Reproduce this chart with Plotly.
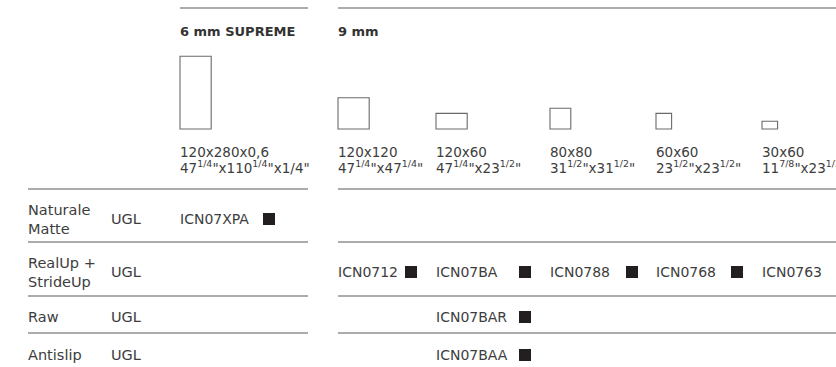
import plotly.graph_objects as go

# ---------------- data ----------------
groups = ["6 mm SUPREME", "9 mm"]
sizes_cm = ["120x280x0,6", "120x120", "120x60", "80x80", "60x60", "30x60"]
sizes_in = [
    '47<sup>1/4</sup>"x110<sup>1/4</sup>"x1/4"',
    '47<sup>1/4</sup>"x47<sup>1/4</sup>"',
    '47<sup>1/4</sup>"x23<sup>1/2</sup>"',
    '31<sup>1/2</sup>"x31<sup>1/2</sup>"',
    '23<sup>1/2</sup>"x23<sup>1/2</sup>"',
    '11<sup>7/8</sup>"x23<sup>1/2</sup>"',
]
tile_w = [120, 120, 120, 80, 60, 60]
tile_h = [280, 120, 60, 80, 60, 30]
finishes = ["Naturale<br>Matte", "RealUp +<br>StrideUp", "Raw", "Antislip"]
glazes = ["UGL", "UGL", "UGL", "UGL"]
codes = [
    ["ICN07XPA", "", "", "", "", ""],
    ["", "ICN0712", "ICN07BA", "ICN0788", "ICN0768", "ICN0763"],
    ["", "", "ICN07BAR", "", "", ""],
    ["", "", "ICN07BAA", "", "", ""],
]

# ---------------- layout constants ----------------
W, H = 836, 367
col_x = [180, 338, 436, 550, 656, 762]
sq_off = [83, 67, 83, 76, 75, 75]
seg_ranges = [(180, 308), (338, 836)]
body_seg_ranges = [(28, 308), (338, 836)]
row_y = [219, 272, 317, 355]
row_lines = [189, 242, 296, 333]
tile_base = 129
tile_scale = 0.26
FONT = "DejaVu Sans"
TXT = "#3d3d3d"
LINE = "#5a5a5a"

fig = go.Figure()
shapes = []
ann = []

def text(x, y, s, size=14, bold=False, color=TXT):
    ann.append(dict(x=x, y=y, xref="x", yref="y", text=("<b>%s</b>" % s) if bold else s,
                    showarrow=False, xanchor="left", yanchor="middle", align="left",
                    font=dict(family=FONT, size=size, color=color), borderpad=0))

# top lines and group headers
for g, (x0, x1) in zip(groups, seg_ranges):
    shapes.append(dict(type="line", xref="x", yref="y", x0=x0, x1=x1, y0=8, y1=8,
                       line=dict(color=LINE, width=1.2)))
    text(x0 - 1, 31, g, size=13, bold=True, color="#333333")

# tiles and size labels
for i, x in enumerate(col_x):
    w = tile_w[i] * tile_scale
    h = tile_h[i] * tile_scale
    shapes.append(dict(type="rect", xref="x", yref="y", x0=x, x1=x + w,
                       y0=tile_base - h, y1=tile_base,
                       line=dict(color="#6a6a6a", width=1.1), fillcolor="rgba(0,0,0,0)"))
    text(x - 1, 151.5, sizes_cm[i], size=13.5)
    text(x - 1, 166.5, sizes_in[i], size=13.5)

# horizontal row separators
for y in row_lines:
    for x0, x1 in body_seg_ranges:
        shapes.append(dict(type="line", xref="x", yref="y", x0=x0, x1=x1, y0=y, y1=y,
                           line=dict(color=LINE, width=1.2)))

# rows
for r, y in enumerate(row_y):
    text(27, y, finishes[r], size=14.5)
    text(110, y, glazes[r], size=14.5)
    for c, code in enumerate(codes[r]):
        if not code:
            continue
        text(col_x[c] - 1, y, code, size=14)
        sx = col_x[c] + sq_off[c]
        shapes.append(dict(type="rect", xref="x", yref="y", x0=sx, x1=sx + 12,
                           y0=y - 6, y1=y + 6, line=dict(width=0), fillcolor="#231f20"))

fig.update_layout(
    width=W, height=H, margin=dict(l=0, r=0, t=0, b=0),
    paper_bgcolor="white", plot_bgcolor="white",
    xaxis=dict(range=[0, W], visible=False, fixedrange=True),
    yaxis=dict(range=[H, 0], visible=False, fixedrange=True),
    shapes=shapes, annotations=ann, showlegend=False,
)
fig.write_html("out.html", config={"displayModeBar": False},
               post_script="document.body.style.margin='0px';document.body.style.overflow='hidden';")
